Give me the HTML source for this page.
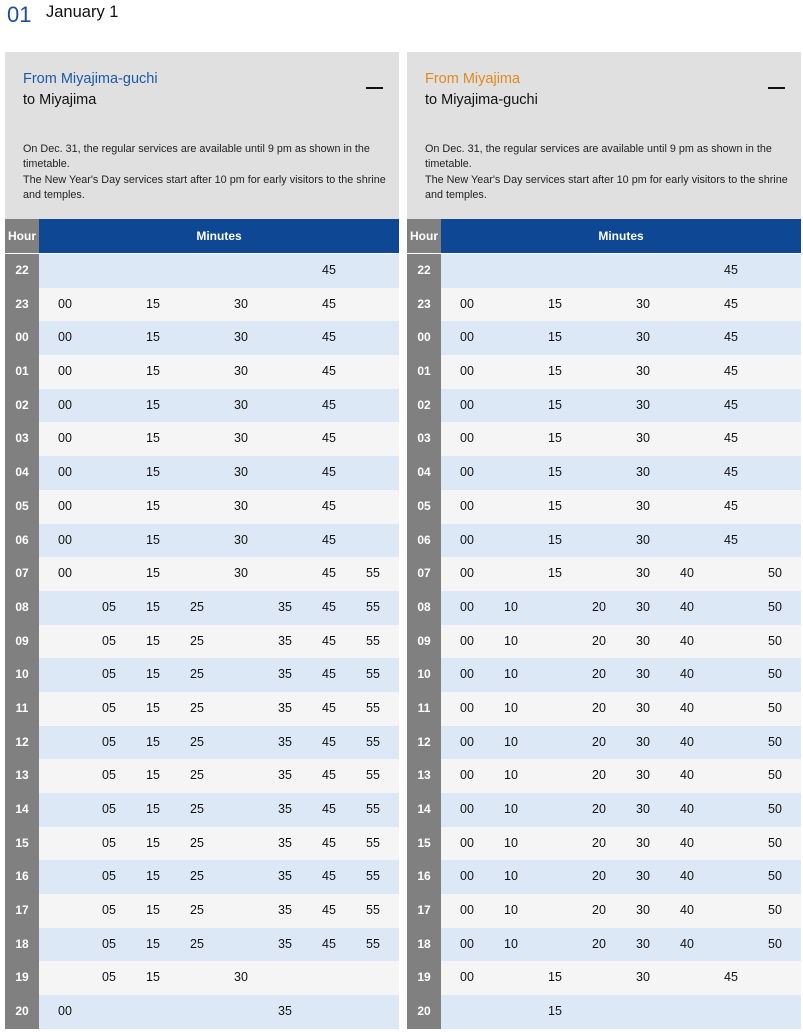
<!DOCTYPE html>
<html><head><meta charset="utf-8"><style>
*{margin:0;padding:0;box-sizing:border-box}
body{width:803px;height:1024px;overflow:hidden;background:#fff;font-family:"Liberation Sans",sans-serif;color:#222;position:relative}
.t1{position:absolute;left:7px;top:2px;font-size:22px;color:#1c4f9c}
.t2{position:absolute;left:46px;top:3px;font-size:16.5px;color:#111}
.p{position:absolute;top:52px;width:394px;height:980px;overflow:hidden}
.hd{position:absolute;left:0;top:0;width:394px;height:168px;background:#e0e0e0}
.from{position:absolute;left:18px;top:19px;font-size:14.5px}
.to{position:absolute;left:18px;top:40px;font-size:14.5px;color:#111}
.dash{position:absolute;left:361px;top:35px;width:17px;height:2px;background:#111}
.note{position:absolute;left:18px;top:90px;width:370px;font-size:10.8px;line-height:15.3px;color:#222}
.th{position:absolute;top:167px;height:34px;color:#fff;font-size:12px;font-weight:bold;line-height:34px;text-align:center}
.rows{position:absolute;left:0;top:202px;width:394px}
.r{height:33.7px;display:flex;font-size:12.5px;line-height:33.7px;color:#111}
.r:nth-child(odd){background:#dde8f6}
.r:nth-child(even){background:#f5f5f5}
.r b{width:34px;background:#808080;color:#fff;text-align:center;font-weight:bold;font-size:12px;margin-right:4px}
.r i{font-style:normal;width:44px;text-align:center}
</style></head><body>
<div class="t1">01</div><div class="t2">January 1</div>

<div class="p" style="left:5px">
<div class="hd"><div class="from" style="color:#1c5aa6">From Miyajima-guchi</div><div class="to">to Miyajima</div><div class="dash"></div>
<div class="note">On Dec. 31, the regular services are available until 9 pm as shown in the timetable.<br>The New Year's Day services start after 10 pm for early visitors to the shrine and temples.</div></div>
<div class="th" style="left:0;width:34px;background:#808080">Hour</div>
<div class="th" style="left:34px;width:360px;background:#0e4794">Minutes</div>
<div class="rows">
<div class="r"><b>22</b><i></i><i></i><i></i><i></i><i></i><i></i><i>45</i><i></i></div>
<div class="r"><b>23</b><i>00</i><i></i><i>15</i><i></i><i>30</i><i></i><i>45</i><i></i></div>
<div class="r"><b>00</b><i>00</i><i></i><i>15</i><i></i><i>30</i><i></i><i>45</i><i></i></div>
<div class="r"><b>01</b><i>00</i><i></i><i>15</i><i></i><i>30</i><i></i><i>45</i><i></i></div>
<div class="r"><b>02</b><i>00</i><i></i><i>15</i><i></i><i>30</i><i></i><i>45</i><i></i></div>
<div class="r"><b>03</b><i>00</i><i></i><i>15</i><i></i><i>30</i><i></i><i>45</i><i></i></div>
<div class="r"><b>04</b><i>00</i><i></i><i>15</i><i></i><i>30</i><i></i><i>45</i><i></i></div>
<div class="r"><b>05</b><i>00</i><i></i><i>15</i><i></i><i>30</i><i></i><i>45</i><i></i></div>
<div class="r"><b>06</b><i>00</i><i></i><i>15</i><i></i><i>30</i><i></i><i>45</i><i></i></div>
<div class="r"><b>07</b><i>00</i><i></i><i>15</i><i></i><i>30</i><i></i><i>45</i><i>55</i></div>
<div class="r"><b>08</b><i></i><i>05</i><i>15</i><i>25</i><i></i><i>35</i><i>45</i><i>55</i></div>
<div class="r"><b>09</b><i></i><i>05</i><i>15</i><i>25</i><i></i><i>35</i><i>45</i><i>55</i></div>
<div class="r"><b>10</b><i></i><i>05</i><i>15</i><i>25</i><i></i><i>35</i><i>45</i><i>55</i></div>
<div class="r"><b>11</b><i></i><i>05</i><i>15</i><i>25</i><i></i><i>35</i><i>45</i><i>55</i></div>
<div class="r"><b>12</b><i></i><i>05</i><i>15</i><i>25</i><i></i><i>35</i><i>45</i><i>55</i></div>
<div class="r"><b>13</b><i></i><i>05</i><i>15</i><i>25</i><i></i><i>35</i><i>45</i><i>55</i></div>
<div class="r"><b>14</b><i></i><i>05</i><i>15</i><i>25</i><i></i><i>35</i><i>45</i><i>55</i></div>
<div class="r"><b>15</b><i></i><i>05</i><i>15</i><i>25</i><i></i><i>35</i><i>45</i><i>55</i></div>
<div class="r"><b>16</b><i></i><i>05</i><i>15</i><i>25</i><i></i><i>35</i><i>45</i><i>55</i></div>
<div class="r"><b>17</b><i></i><i>05</i><i>15</i><i>25</i><i></i><i>35</i><i>45</i><i>55</i></div>
<div class="r"><b>18</b><i></i><i>05</i><i>15</i><i>25</i><i></i><i>35</i><i>45</i><i>55</i></div>
<div class="r"><b>19</b><i></i><i>05</i><i>15</i><i></i><i>30</i><i></i><i></i><i></i></div>
<div class="r"><b>20</b><i>00</i><i></i><i></i><i></i><i></i><i>35</i><i></i><i></i></div>
</div></div>

<div class="p" style="left:407px">
<div class="hd"><div class="from" style="color:#e08a1e">From Miyajima</div><div class="to">to Miyajima-guchi</div><div class="dash"></div>
<div class="note">On Dec. 31, the regular services are available until 9 pm as shown in the timetable.<br>The New Year's Day services start after 10 pm for early visitors to the shrine and temples.</div></div>
<div class="th" style="left:0;width:34px;background:#808080">Hour</div>
<div class="th" style="left:34px;width:360px;background:#0e4794">Minutes</div>
<div class="rows">
<div class="r"><b>22</b><i></i><i></i><i></i><i></i><i></i><i></i><i>45</i><i></i></div>
<div class="r"><b>23</b><i>00</i><i></i><i>15</i><i></i><i>30</i><i></i><i>45</i><i></i></div>
<div class="r"><b>00</b><i>00</i><i></i><i>15</i><i></i><i>30</i><i></i><i>45</i><i></i></div>
<div class="r"><b>01</b><i>00</i><i></i><i>15</i><i></i><i>30</i><i></i><i>45</i><i></i></div>
<div class="r"><b>02</b><i>00</i><i></i><i>15</i><i></i><i>30</i><i></i><i>45</i><i></i></div>
<div class="r"><b>03</b><i>00</i><i></i><i>15</i><i></i><i>30</i><i></i><i>45</i><i></i></div>
<div class="r"><b>04</b><i>00</i><i></i><i>15</i><i></i><i>30</i><i></i><i>45</i><i></i></div>
<div class="r"><b>05</b><i>00</i><i></i><i>15</i><i></i><i>30</i><i></i><i>45</i><i></i></div>
<div class="r"><b>06</b><i>00</i><i></i><i>15</i><i></i><i>30</i><i></i><i>45</i><i></i></div>
<div class="r"><b>07</b><i>00</i><i></i><i>15</i><i></i><i>30</i><i>40</i><i></i><i>50</i></div>
<div class="r"><b>08</b><i>00</i><i>10</i><i></i><i>20</i><i>30</i><i>40</i><i></i><i>50</i></div>
<div class="r"><b>09</b><i>00</i><i>10</i><i></i><i>20</i><i>30</i><i>40</i><i></i><i>50</i></div>
<div class="r"><b>10</b><i>00</i><i>10</i><i></i><i>20</i><i>30</i><i>40</i><i></i><i>50</i></div>
<div class="r"><b>11</b><i>00</i><i>10</i><i></i><i>20</i><i>30</i><i>40</i><i></i><i>50</i></div>
<div class="r"><b>12</b><i>00</i><i>10</i><i></i><i>20</i><i>30</i><i>40</i><i></i><i>50</i></div>
<div class="r"><b>13</b><i>00</i><i>10</i><i></i><i>20</i><i>30</i><i>40</i><i></i><i>50</i></div>
<div class="r"><b>14</b><i>00</i><i>10</i><i></i><i>20</i><i>30</i><i>40</i><i></i><i>50</i></div>
<div class="r"><b>15</b><i>00</i><i>10</i><i></i><i>20</i><i>30</i><i>40</i><i></i><i>50</i></div>
<div class="r"><b>16</b><i>00</i><i>10</i><i></i><i>20</i><i>30</i><i>40</i><i></i><i>50</i></div>
<div class="r"><b>17</b><i>00</i><i>10</i><i></i><i>20</i><i>30</i><i>40</i><i></i><i>50</i></div>
<div class="r"><b>18</b><i>00</i><i>10</i><i></i><i>20</i><i>30</i><i>40</i><i></i><i>50</i></div>
<div class="r"><b>19</b><i>00</i><i></i><i>15</i><i></i><i>30</i><i></i><i>45</i><i></i></div>
<div class="r"><b>20</b><i></i><i></i><i>15</i><i></i><i></i><i></i><i></i><i></i></div>
</div></div>
</body></html>
